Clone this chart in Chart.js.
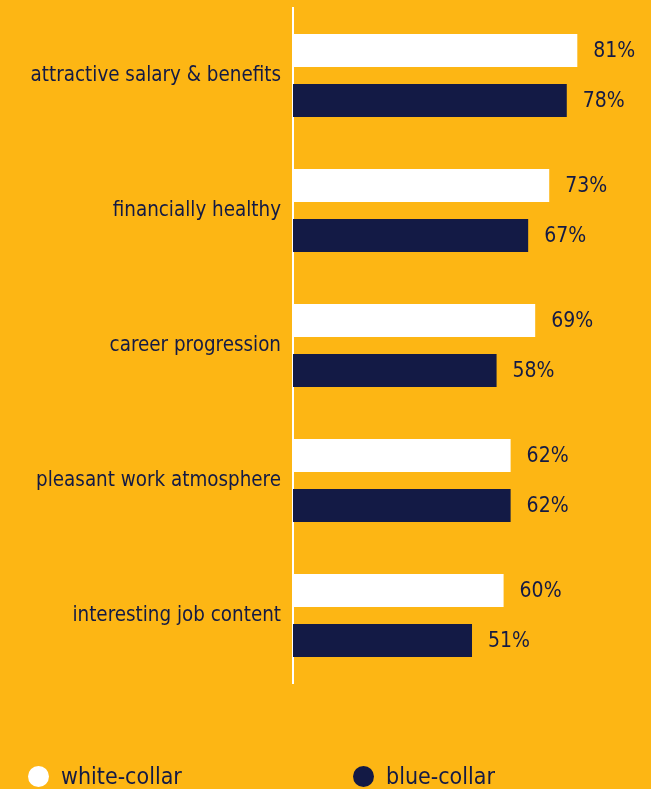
<!DOCTYPE html>
<html>
<head>
<meta charset="utf-8">
<script src="https://cdn.jsdelivr.net/npm/chart.js@4"></script>
<style>
  html, body { margin: 0; padding: 0; background: #FDB614; }
  #wrap { position: relative; width: 651px; height: 789px; overflow: hidden; }
  #legend { position: absolute; left: 0; top: 762px; width: 651px; height: 30px;
    font-family: "DejaVu Sans Condensed", "DejaVu Sans", sans-serif; font-size: 23px; color: #131A45; }
  .item { position: absolute; top: 0; display: flex; align-items: center; height: 28px; }
  .dot { width: 21px; height: 21px; border-radius: 50%; margin-right: 12px; }
</style>
</head>
<body>
<div id="wrap">
  <canvas id="chartCanvas" width="651" height="789"></canvas>
  <div id="legend"></div>
</div>
<script>
const categories = [
  "attractive salary & benefits",
  "financially healthy",
  "career progression",
  "pleasant work atmosphere",
  "interesting job content"
];
const whiteCollar = [81, 73, 69, 62, 60];
const blueCollar = [78, 67, 58, 62, 51];

const navy = "#131A45";
const fontFamily = '"DejaVu Sans Condensed", "DejaVu Sans", sans-serif';

// prints "NN%" just right of each bar
const valueLabels = {
  id: "valueLabels",
  afterDatasetsDraw(chart) {
    const ctx = chart.ctx;
    ctx.save();
    ctx.font = "21px " + fontFamily;
    ctx.fillStyle = navy;
    ctx.textAlign = "left";
    ctx.textBaseline = "middle";
    chart.data.datasets.forEach((ds, i) => {
      chart.getDatasetMeta(i).data.forEach((bar, j) => {
        ctx.fillText(ds.data[j] + "%", bar.x + 16, bar.y + 1);
      });
    });
    ctx.restore();
  }
};

const chart = new Chart(chartCanvas, {
  type: "bar",
  data: {
    labels: categories,
    datasets: [
      { label: "white-collar", data: whiteCollar, backgroundColor: "#FFFFFF" },
      { label: "blue-collar", data: blueCollar, backgroundColor: navy }
    ]
  },
  options: {
    indexAxis: "y",
    responsive: false,
    animation: false,
    categoryPercentage: 0.741,
    barPercentage: 0.66,
    layout: { padding: { top: 8, right: 7, bottom: 106, left: 0 } },
    plugins: {
      legend: { display: false },
      tooltip: { enabled: false }
    },
    scales: {
      x: { display: false, min: 0, max: 100 },
      y: {
        grid: { display: false, drawTicks: false },
        border: { color: "#FFFFFF", width: 2 },
        ticks: {
          color: navy,
          padding: 12,
          font: { family: fontFamily, size: 20.4 }
        },
        afterFit(scale) {
          scale.width = 293;
          scale.paddingTop = 0;
          scale.paddingBottom = 0;
        }
      }
    }
  },
  plugins: [valueLabels]
});

// legend under the plot
const legend = document.getElementById("legend");
const legendX = [28, 353];
chart.data.datasets.forEach((ds, i) => {
  const item = document.createElement("div");
  item.className = "item";
  item.style.left = legendX[i] + "px";
  item.innerHTML = `<span class="dot" style="background:${ds.backgroundColor}"></span><span>${ds.label}</span>`;
  legend.appendChild(item);
});
</script>
</body>
</html>
